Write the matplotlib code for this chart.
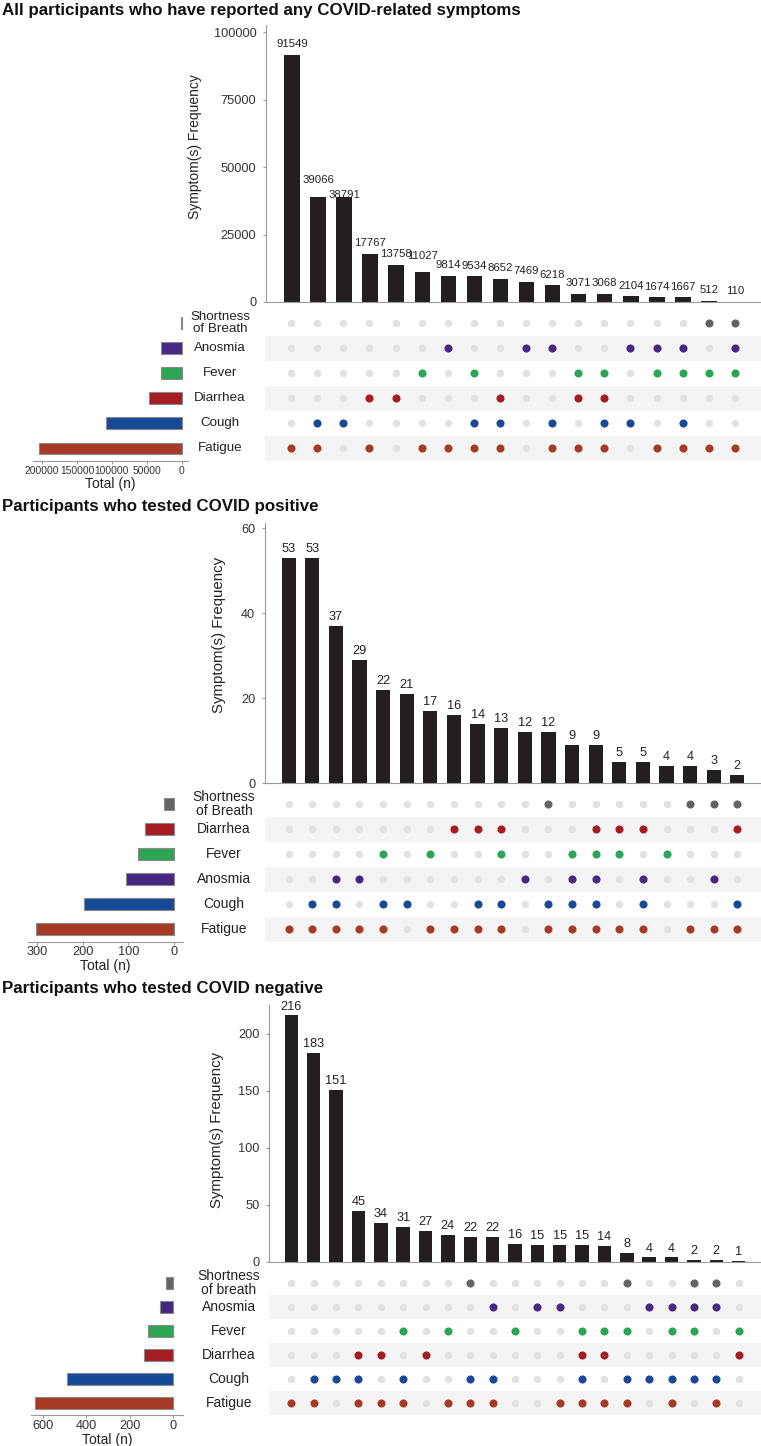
import matplotlib
matplotlib.use("Agg")
import matplotlib.pyplot as plt
from matplotlib import font_manager
from matplotlib.transforms import blended_transform_factory

# 字體：盡量用窄體
_names = {f.name for f in font_manager.fontManager.ttflist}
COND = "Liberation Sans Narrow" if "Liberation Sans Narrow" in _names else "Liberation Sans"
plt.rcParams["font.family"] = [COND, "DejaVu Sans"]

SYM_COLORS = {
    "Fatigue": "#a63a24",
    "Cough": "#164a96",
    "Diarrhea": "#a51c24",
    "Fever": "#2ca554",
    "Anosmia": "#462882",
    "SOB": "#646464",
}

# ---- panel 1: all participants ----
p1_title = "All participants who have reported any COVID-related symptoms"
p1_rows = ["SOB", "Anosmia", "Fever", "Diarrhea", "Cough", "Fatigue"]
p1_labels = ["Shortness\nof Breath", "Anosmia", "Fever", "Diarrhea", "Cough", "Fatigue"]
p1_member = [
    "................##",
    "......#..##..###.#",
    ".....#.#...##.####",
    "...##...#..##.....",
    ".##....##.#.##.#..",
    "##.#.####.###.####",
]
p1_counts = [91549, 39066, 38791, 17767, 13758, 11027, 9814, 9534, 8652,
             7469, 6218, 3071, 3068, 2104, 1674, 1667, 512, 110]
p1_totals = [622, 29056, 29663, 46316, 109100, 203729]
p1_yticks = [0, 25000, 50000, 75000, 100000]
p1_tticks = [200000, 150000, 100000, 50000, 0]

# ---- panel 2: COVID positive ----
p2_title = "Participants who tested COVID positive"
p2_rows = ["SOB", "Diarrhea", "Fever", "Anosmia", "Cough", "Fatigue"]
p2_labels = ["Shortness\nof Breath", "Diarrhea", "Fever", "Anosmia", "Cough", "Fatigue"]
p2_member = [
    "...........#.....###",
    ".......###...###...#",
    "....#.#..#..###.#...",
    "..##......#.##.#..#.",
    ".##.##..##.###.#...#",
    "#####.####.#####.###",
]
p2_counts = [53, 53, 37, 29, 22, 21, 17, 16, 14, 13, 12, 12, 9, 9, 5, 5, 4, 4, 3, 2]
p2_totals = [21, 64, 79, 104, 197, 303]
p2_yticks = [0, 20, 40, 60]
p2_tticks = [300, 200, 100, 0]

# ---- panel 3: COVID negative ----
p3_title = "Participants who tested COVID negative"
p3_rows = ["SOB", "Anosmia", "Fever", "Diarrhea", "Cough", "Fatigue"]
p3_labels = ["Shortness\nof breath", "Anosmia", "Fever", "Diarrhea", "Cough", "Fatigue"]
p3_member = [
    "........#......#..##.",
    ".........#.##...####.",
    ".....#.#..#..###.##.#",
    "...##.#......##.....#",
    ".###.#..##...#.#####.",
    "##.###.###..####.#.#.",
]
p3_counts = [216, 183, 151, 45, 34, 31, 27, 24, 22, 22, 16, 15, 15, 15, 14, 8, 4, 4, 2, 2, 1]
p3_totals = [34, 64, 115, 136, 489, 635]
p3_yticks = [0, 50, 100, 150, 200]
p3_tticks = [600, 400, 200, 0]

W, H = 761, 1446
fig = plt.figure(figsize=(W / 100, H / 100), dpi=100)


def rect(x0, y0, x1, y1):
    return [x0 / W, 1 - y1 / H, (x1 - x0) / W, (y1 - y0) / H]


def draw_panel(title, rows, labels, member, counts, totals, yticks, ytop,
               tticks, tlim, geo):
    n = len(counts)
    fig.text(2 / W, 1 - geo["title_y"] / H, title, ha="left", va="center",
             fontsize=12.2, fontweight="bold", color="#111111")

    # 上方長條圖
    ax_b = fig.add_axes(rect(*geo["bar"]))
    ax_b.bar(range(n), counts, width=0.6, color="#231f20")
    for i, v in enumerate(counts):
        off = geo["voff"]
        # 相鄰兩根幾乎等高且數字很長時，上下錯開避免重疊
        if len(str(v)) >= 5:
            if i + 1 < n and abs(counts[i + 1] - v) < 0.02 * ytop:
                off += 4
            elif i > 0 and abs(counts[i - 1] - v) < 0.02 * ytop:
                off = -2
        ax_b.annotate(str(v), (i, v), xytext=(0, off), textcoords="offset points",
                      ha="center", va="bottom", fontsize=geo["vfs"], color="#222222")
    ax_b.set_xlim(-1, n)
    ax_b.set_ylim(0, ytop)
    ax_b.set_yticks(yticks)
    ax_b.set_xticks([])
    for s in ["top", "right"]:
        ax_b.spines[s].set_visible(False)
    for s in ["left", "bottom"]:
        ax_b.spines[s].set_color("#9a9a9a")
        ax_b.spines[s].set_linewidth(0.8)
    ax_b.tick_params(axis="y", length=2, color="#9a9a9a", labelsize=9.2,
                     labelcolor="#333333", pad=5)
    fig.text(geo["ylab_x"] / W, 1 - geo["ylab_y"] / H, "Symptom(s) Frequency",
             rotation=90, ha="center", va="center", fontsize=geo["yfs"], color="#222222")

    # 點陣矩陣
    ax_m = fig.add_axes(rect(*geo["mat"]))
    ax_m.set_xlim(-1, n)
    ax_m.set_ylim(5.5, -0.5)
    ax_m.axis("off")
    for r in (1, 3, 5):
        ax_m.axhspan(r - 0.5, r + 0.5, color="#f4f4f4", lw=0, zorder=0)
    for r, (sym, pattern) in enumerate(zip(rows, member)):
        off = [i for i, c in enumerate(pattern) if c != "#"]
        on = [i for i, c in enumerate(pattern) if c == "#"]
        ax_m.scatter(off, [r] * len(off), s=29, color="#e2e2e2", lw=0, zorder=2)
        ax_m.scatter(on, [r] * len(on), s=34, color=SYM_COLORS[sym], lw=0, zorder=3)

    trans = blended_transform_factory(fig.transFigure, ax_m.transData)
    for r, lab in enumerate(labels):
        fig.text(geo["lab_x"] / W, r, lab, transform=trans, ha="center",
                 va="center", fontsize=geo["lfs"], color="#222222", linespacing=0.95)

    # 左側總數
    ax_t = fig.add_axes(rect(*geo["tot"]))
    ax_t.barh(range(len(rows)), totals, height=0.47,
              color=[SYM_COLORS[s] for s in rows], edgecolor="#8a8a8a", lw=0.8)
    ax_t.set_ylim(5.5, -0.5)
    ax_t.set_xlim(*tlim)
    ax_t.set_xticks(tticks)
    ax_t.set_xticklabels([str(t) for t in tticks])
    ax_t.set_yticks([])
    for s in ["top", "right", "left"]:
        ax_t.spines[s].set_visible(False)
    ax_t.spines["bottom"].set_color("#9a9a9a")
    ax_t.spines["bottom"].set_linewidth(0.8)
    ax_t.tick_params(axis="x", length=2, color="#9a9a9a", labelsize=geo["tfs"],
                     labelcolor="#333333", pad=1.5)
    ax_t.set_xlabel("Total (n)", fontsize=10, color="#222222", labelpad=0.5)


draw_panel(p1_title, p1_rows, p1_labels, p1_member, p1_counts, p1_totals,
           p1_yticks, 102600, p1_tticks, (213000, -9000),
           dict(title_y=10, bar=(266, 25, 761, 302), mat=(265, 310.5, 761, 461),
                tot=(33, 310.5, 188, 461), lab_x=220, ylab_x=195, ylab_y=147,
                vfs=8.2, voff=4, tfs=7.4, yfs=10, lfs=9.6))
draw_panel(p2_title, p2_rows, p2_labels, p2_member, p2_counts, p2_totals,
           p2_yticks, 61.2, p2_tticks, (320, -20),
           dict(title_y=507, bar=(265, 523, 761, 783), mat=(265, 791.5, 761, 941.5),
                tot=(28, 791.5, 183, 941.5), lab_x=224, ylab_x=219, ylab_y=635,
                vfs=9.2, voff=2, tfs=9.2, yfs=10.8, lfs=10))
draw_panel(p3_title, p3_rows, p3_labels, p3_member, p3_counts, p3_totals,
           p3_yticks, 225, p3_tticks, (655, -44),
           dict(title_y=989, bar=(269, 1005, 761, 1262), mat=(269, 1271, 761, 1415),
                tot=(31, 1271, 183, 1415), lab_x=229, ylab_x=217, ylab_y=1130,
                vfs=9.2, voff=2, tfs=9.2, yfs=10.8, lfs=10))

fig.savefig("out.png", dpi=100)
